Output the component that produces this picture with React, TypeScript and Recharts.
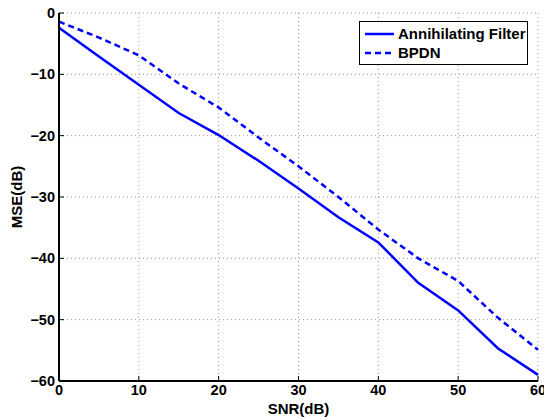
import React from "react";
import { LineChart, Line, XAxis, YAxis, CartesianGrid, Legend } from "recharts";

const snr = [0, 5, 10, 15, 20, 25, 30, 35, 40, 45, 50, 55, 60];
const annihilating = [-2.4, -7.1, -11.7, -16.3, -19.9, -24.1, -28.6, -33.3, -37.4, -44.0, -48.5, -54.7, -59.0];
const bpdn = [-1.4, -4.0, -6.9, -11.5, -15.4, -20.3, -25.0, -30.0, -35.3, -40.0, -43.7, -49.7, -54.9];
const xTicks = [0, 10, 20, 30, 40, 50, 60];
const yTicks = [-60, -50, -40, -30, -20, -10, 0];

const data = snr.map((s, i) => ({ snr: s, af: annihilating[i], bpdn: bpdn[i] }));

const FONT = "'Liberation Sans', Arial, Helvetica, sans-serif";
const tickStyle = { fontSize: 14.5, fontWeight: "bold", fill: "#000", fontFamily: FONT };
const labelStyle = { fontSize: 15, fontWeight: "bold", fill: "#000", fontFamily: FONT };
const fmt = (v: number) => String(v).replace("-", "\u2212");

function XLabel(props: any) {
  const vb = props.viewBox || {};
  return (
    <text x={vb.x + vb.width / 2} y={414} textAnchor="middle" style={labelStyle as any}>
      SNR(dB)
    </text>
  );
}

function YLabel(props: any) {
  const vb = props.viewBox || {};
  const cy = vb.y + vb.height / 2;
  return (
    <text x={22} y={cy} textAnchor="middle" transform={`rotate(-90, 22, ${cy})`} style={labelStyle as any}>
      MSE(dB)
    </text>
  );
}

function LegendBox() {
  const rows = [
    { name: "Annihilating Filter", dash: undefined },
    { name: "BPDN", dash: "6 4" },
  ];
  return (
    <div
      style={{
        border: "1.5px solid #000",
        background: "#fff",
        boxSizing: "border-box",
        width: 169,
        height: 44,
        padding: "2px 0 0 4px",
        fontFamily: FONT,
        fontWeight: "bold",
        fontSize: 15,
        color: "#000",
        whiteSpace: "nowrap",
      }}
    >
      {rows.map((r) => (
        <div key={r.name} style={{ display: "flex", alignItems: "center", height: 19 }}>
          <svg width={31} height={8} style={{ marginRight: 3 }}>
            <line x1={1} y1={4} x2={30} y2={4} stroke="#0000ff" strokeWidth={2.5} strokeDasharray={r.dash} />
          </svg>
          <span>{r.name}</span>
        </div>
      ))}
    </div>
  );
}

export default function App() {
  return (
    <div style={{ position: "absolute", left: 0, top: 0, width: 544, height: 420, background: "#fff" }}>
      <LineChart width={544} height={420} data={data} margin={{ top: 13, right: 6, left: 0, bottom: 0 }}>
        <CartesianGrid stroke="#999" strokeDasharray="1 3" />
        <XAxis
          dataKey="snr"
          type="number"
          domain={[0, 60]}
          ticks={xTicks}
          height={39}
          tickSize={-5}
          tickMargin={9}
          tick={tickStyle}
          tickLine={{ stroke: "#000" }}
          axisLine={{ stroke: "#000", strokeWidth: 2 }}
          label={<XLabel />}
          interval={0}
        />
        <XAxis
          xAxisId="top"
          orientation="top"
          dataKey="snr"
          type="number"
          domain={[0, 60]}
          ticks={xTicks}
          height={0}
          tickSize={-5}
          tick={false}
          tickLine={{ stroke: "#000" }}
          axisLine={{ stroke: "#000", strokeWidth: 1.5 }}
        />
        <YAxis
          type="number"
          domain={[-60, 0]}
          ticks={yTicks}
          width={59}
          tickSize={-5}
          tickMargin={9}
          tick={tickStyle}
          tickFormatter={fmt}
          tickLine={{ stroke: "#000" }}
          axisLine={{ stroke: "#000", strokeWidth: 2 }}
          label={<YLabel />}
          interval={0}
        />
        <YAxis
          yAxisId="right"
          orientation="right"
          type="number"
          domain={[-60, 0]}
          ticks={yTicks}
          width={0}
          tickSize={-5}
          tick={false}
          tickLine={{ stroke: "#000" }}
          axisLine={{ stroke: "#000", strokeWidth: 1.5 }}
        />
        <Legend
          layout="horizontal"
          verticalAlign="middle"
          align="center"
          content={() => <LegendBox />}
          wrapperStyle={{ position: "absolute", left: 359, top: 21, width: 169, height: 44 }}
        />
        <Line
          type="linear"
          dataKey="af"
          name="Annihilating Filter"
          stroke="#0000ff"
          strokeWidth={2.5}
          dot={false}
          isAnimationActive={false}
        />
        <Line
          type="linear"
          dataKey="bpdn"
          name="BPDN"
          stroke="#0000ff"
          strokeWidth={2.5}
          strokeDasharray="6 4"
          dot={false}
          isAnimationActive={false}
        />
      </LineChart>
    </div>
  );
}
